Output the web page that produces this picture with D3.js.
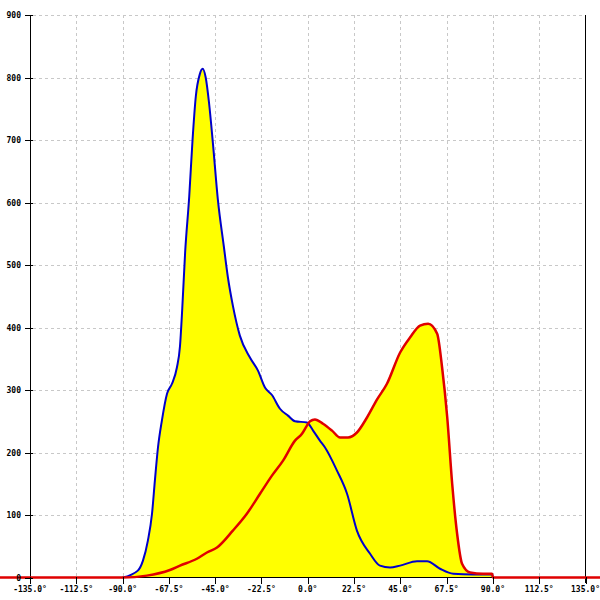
<!DOCTYPE html>
<html><head><meta charset="utf-8">
<script src="https://cdn.jsdelivr.net/npm/d3@7"></script>
<style>
html,body{margin:0;padding:0;background:#fff;}
text{font-family:"DejaVu Sans Mono",monospace;font-size:8px;fill:#000;}
</style></head>
<body>
<svg id="c" width="600" height="600"></svg>
<script>
const xTicks = [-135,-112.5,-90,-67.5,-45,-22.5,0,22.5,45,67.5,90,112.5,135];
const yTicks = [0,100,200,300,400,500,600,700,800,900];

const blueAngles = [-90,-82.6,-80.1,-77.7,-75.7,-74.3,-72.8,-70.9,-68.4,-66.0,-63.6,-62.1,-61.0,-59.6,-57.6,-56.0,-54.4,-52.5,-51.1,-49.6,-48.0,-46.1,-43.7,-40.8,-38.8,-36.4,-33.0,-28.1,-24.2,-20.8,-17.4,-13.5,-9.6,-6.2,-0.4,2.6,5.9,8.4,14.2,19.1,23.9,30.3,35.1,40.0,44.9,53.1,58.0,64.3,70.7,80.4,89.6,90];
const blueValues = [0,11,27,59,102,155,208,251,294,310,336,370,430,520,610,700,770,805,814,800,760,695,605,530,480,435,387,352,331,304,292,270,259,250,248,235,219,208,171,134,75,38,19,16,19,26,26,14,6,5,5,0];

const redAngles = [-150,-90,-78.2,-67.0,-62.1,-53.9,-49.0,-44.1,-36.4,-29.6,-23.2,-17.4,-12.0,-6.2,-2.8,-0.4,1.1,3.5,7.4,11.8,15.7,19.6,23.9,28.8,33.7,38.5,44.9,49.7,54.6,58.5,62.9,65.3,67.8,70.2,72.6,75.0,78.9,85.2,89.6,90,145];
const redValues = [0,0,3,12,19,30,40,48,75,102,134,163,187,219,230,243,250,253,246,235,224,224,232,256,285,310,360,384,403,406,390,336,256,150,70,22,8,6,6,0,0];

const svg = d3.select("#c");
const x = d3.scaleLinear().domain([-135,135]).range([30,585.5]);
const y = d3.scaleLinear().domain([0,900]).range([577.5,15]);

// grid
svg.append("g").selectAll("line").data(yTicks.filter(d=>d>0)).join("line")
  .attr("x1",33).attr("x2",585.5).attr("y1",d=>Math.round(y(d))+0.5).attr("y2",d=>Math.round(y(d))+0.5)
  .attr("stroke","#c8c8c8").attr("stroke-width",1).attr("stroke-dasharray","3,3");
svg.append("g").selectAll("line").data(xTicks.filter(d=>d>-135&&d<135)).join("line")
  .attr("x1",d=>Math.round(x(d))+0.5).attr("x2",d=>Math.round(x(d))+0.5).attr("y1",15).attr("y2",577)
  .attr("stroke","#c8c8c8").attr("stroke-width",1).attr("stroke-dasharray","3,3");

const blue = blueAngles.map((a,i)=>[a,blueValues[i]]);
const red = redAngles.map((a,i)=>[a,redValues[i]]);
const curve = d3.curveMonotoneX;
const area = d3.area().x(d=>x(d[0])).y0(y(0)).y1(d=>y(d[1])).curve(curve);
const line = d3.line().x(d=>x(d[0])).y(d=>y(d[1])).curve(curve);

svg.append("path").datum(blue).attr("d",area).attr("fill","#ffff00");
svg.append("path").datum(red).attr("d",area).attr("fill","#ffff00");

// axes lines
svg.append("line").attr("x1",30.5).attr("x2",30.5).attr("y1",15).attr("y2",583).attr("stroke","#000");
svg.append("line").attr("x1",585.5).attr("x2",585.5).attr("y1",15).attr("y2",583).attr("stroke","#000");
svg.append("line").attr("x1",30).attr("x2",586).attr("y1",577.5).attr("y2",577.5).attr("stroke","#000");

svg.append("path").datum(blue).attr("d",line).attr("fill","none").attr("stroke","#0000cc").attr("stroke-width",2);
svg.append("path").datum(red).attr("d",line).attr("fill","none").attr("stroke","#e00000").attr("stroke-width",2.5);

// y ticks
const gy = svg.append("g");
gy.selectAll("line").data(yTicks).join("line")
  .attr("x1",25).attr("x2",33).attr("y1",d=>Math.round(y(d))+0.5).attr("y2",d=>Math.round(y(d))+0.5).attr("stroke","#000");
gy.selectAll("text").data(yTicks).join("text")
  .attr("x",21).attr("y",d=>y(d)+3).attr("text-anchor","end").style("font-weight","bold").text(d=>d);

// x ticks
const gx = svg.append("g");
gx.selectAll("line").data(xTicks).join("line")
  .attr("x1",d=>Math.round(x(d))+0.5).attr("x2",d=>Math.round(x(d))+0.5).attr("y1",577).attr("y2",584).attr("stroke","#000");
gx.selectAll("text").data(xTicks).join("text")
  .attr("x",d=>x(d)).attr("y",592).attr("text-anchor","middle").style("font-weight","bold").text(d=>d.toFixed(1)+"°");
</script>
</body></html>
